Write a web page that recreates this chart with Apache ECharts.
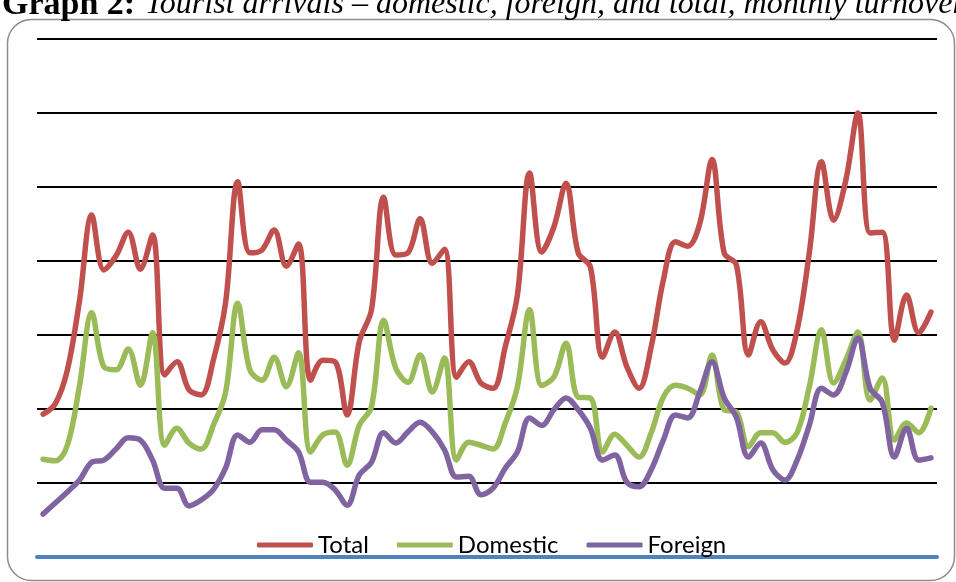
<!DOCTYPE html>
<html><head><meta charset="utf-8">
<script src="https://cdn.jsdelivr.net/npm/echarts@6/dist/echarts.min.js"></script>
<style>html,body{margin:0;padding:0;background:#fff}#c{width:956px;height:582px}</style>
</head><body><div id="c"></div>
<script>
const categories = ['1','2','3','4','5','6','7','8','9','10','11','12','13','14','15','16','17','18','19','20','21','22','23','24','25','26','27','28','29','30','31','32','33','34','35','36','37','38','39','40','41','42','43','44','45','46','47','48','49','50','51','52','53','54','55','56','57','58','59','60','61','62','63','64','65','66','67','68','69','70','71','72','73','74'];
const total = [193,207,253,347,462,388,407,439,389,435,
  246,264,226,219,266,343,507,411,415,442,
  393,423,239,266,264,192,291,334,486,408,
  411,457,397,416,243,264,235,228,284,354,
  519,412,446,505,411,392,270,304,257,228,
  284,374,426,420,451,537,411,395,273,318,
  280,262,307,411,534,455,509,600,438,439,
  293,354,303,331];
const domestic = [132,130,151,232,330,257,253,281,232,303,
  151,174,154,146,178,222,343,253,239,270,
  230,276,142,165,169,124,178,203,320,255,
  236,273,223,269,131,155,151,146,181,230,
  334,232,243,289,216,215,142,166,151,135,
  168,216,232,228,219,273,199,196,149,168,
  168,155,168,230,307,235,266,304,212,242,
  158,181,168,201];
const foreign = [58,73,88,104,128,131,146,161,158,131,
  93,93,69,77,91,120,165,155,172,172,
  158,142,101,101,91,70,111,128,168,154,
  169,182,169,145,108,109,84,93,120,142,
  188,178,199,215,199,174,131,138,101,95,
  118,158,192,188,223,264,215,189,135,154,
  118,104,131,178,228,219,249,296,228,209,
  135,174,131,134];
const seriesNames = ['Total','Domestic','Foreign'];
const titleBold = 'Graph 2:';
const titleItalic = 'Tourist arrivals – domestic, foreign, and total, monthly turnover';

const chart = echarts.init(document.getElementById('c'), null, {renderer:'canvas'});
const mk = (name, data, color) => ({
  name, type:'line', data, smooth:0.35, showSymbol:false, symbol:'none',
  lineStyle:{color, width:5.5, cap:'round', join:'round'}, itemStyle:{color}
});
chart.setOption({
  animation:false,
  backgroundColor:'#fff',
  grid:{left:37,right:19,top:39,bottom:25,containLabel:false},
  xAxis:{type:'category',data:categories,boundaryGap:true,
    axisLine:{show:true,lineStyle:{color:'#4F81BD',width:4}},
    axisTick:{show:false},axisLabel:{show:false},splitLine:{show:false}},
  yAxis:{type:'value',min:0,max:700,interval:100,
    axisLine:{show:false},axisTick:{show:false},axisLabel:{show:false},
    splitLine:{show:true,lineStyle:{color:'#000',width:2}}},
  legend:{data:seriesNames,left:257,top:533,padding:0,itemWidth:56,itemHeight:5,itemGap:28,
    icon:'roundRect',textStyle:{fontFamily:'Lato',fontSize:24,color:'#000'}},
  series:[mk(seriesNames[0],total,'#C0504D'),mk(seriesNames[1],domestic,'#9BBB59'),mk(seriesNames[2],foreign,'#8064A2')],
  graphic:[
    {type:'rect',shape:{x:7.5,y:19.5,width:947,height:561,r:24},style:{fill:'none',stroke:'#8c8c8c',lineWidth:1.5},silent:true},
    {type:'text',x:2,y:5,style:{text:titleBold,verticalAlign:'middle',fontFamily:'Liberation Serif',fontWeight:'bold',fontSize:34,fill:'#000'},silent:true},
    {type:'text',x:145,y:5,style:{text:titleItalic,verticalAlign:'middle',fontFamily:'Liberation Serif',fontStyle:'italic',fontSize:32,fill:'#000'},silent:true}
  ]
});
</script></body></html>
